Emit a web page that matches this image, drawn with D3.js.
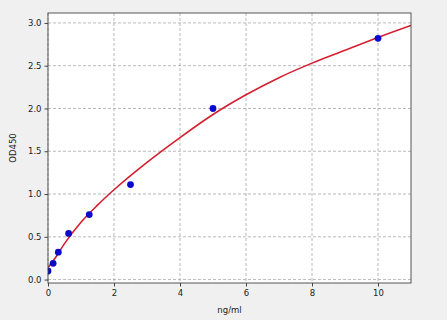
<!DOCTYPE html>
<html><head><meta charset="utf-8">
<script src="https://cdn.jsdelivr.net/npm/d3@7"></script>
<style>body{margin:0;background:#f0f0f0;}svg{display:block;}</style>
</head><body>
<script>
const concentrations = [0, 0.156, 0.312, 0.625, 1.25, 2.5, 5, 10];
const odValues = [0.10, 0.19, 0.32, 0.54, 0.76, 1.11, 2.00, 2.82];
const curveX = [0, 0.25, 0.5, 1, 1.5, 2, 3, 4, 5, 6, 7, 8, 9, 10, 11];
const curveY = [0.14, 0.27, 0.42, 0.67, 0.87, 1.05, 1.37, 1.66, 1.93, 2.16, 2.36, 2.53, 2.68, 2.83, 2.97];
const xTicks = [0, 2, 4, 6, 8, 10];
const yTicks = [0.0, 0.5, 1.0, 1.5, 2.0, 2.5, 3.0];

const W = 447, H = 320;
const m = {left: 48, right: 36, top: 13, bottom: 37};
const svg = d3.select("body").append("svg").attr("width", W).attr("height", H);
svg.append("rect").attr("width", W).attr("height", H).attr("fill", "#f0f0f0");
const x = d3.scaleLinear().domain([0, 11]).range([m.left, W - m.right]);
const y = d3.scaleLinear().domain([-0.04, 3.116]).range([H - m.bottom, m.top]);
svg.append("defs").append("clipPath").attr("id", "clip").append("rect")
  .attr("x", m.left).attr("y", m.top).attr("width", W - m.left - m.right).attr("height", H - m.top - m.bottom);
svg.append("rect").attr("x", m.left).attr("y", m.top)
  .attr("width", W - m.left - m.right).attr("height", H - m.top - m.bottom).attr("fill", "#ffffff");

const grid = svg.append("g").attr("stroke", "#a8a8a8").attr("stroke-width", 0.8).attr("stroke-dasharray", "3,2");
grid.selectAll(".gx").data(xTicks).join("line")
  .attr("x1", d => x(d)).attr("x2", d => x(d)).attr("y1", m.top).attr("y2", H - m.bottom);
grid.selectAll(".gy").data(yTicks).join("line")
  .attr("y1", d => y(d)).attr("y2", d => y(d)).attr("x1", m.left).attr("x2", W - m.right);

const plot = svg.append("g").attr("clip-path", "url(#clip)");
const line = d3.line().x((d, i) => x(curveX[i])).y(d => y(d)).curve(d3.curveMonotoneX);
plot.append("path").datum(curveY).attr("d", line).attr("fill", "none")
  .attr("stroke", "#d42030").attr("stroke-width", 1.6);

plot.append("g").selectAll("circle").data(odValues).join("circle")
  .attr("cx", (d, i) => x(concentrations[i])).attr("cy", d => y(d)).attr("r", 3.4)
  .attr("fill", "#0a0acc");

svg.append("rect").attr("x", m.left).attr("y", m.top)
  .attr("width", W - m.left - m.right).attr("height", H - m.top - m.bottom)
  .attr("fill", "none").attr("stroke", "#444").attr("stroke-width", 0.9);

const xAxis = svg.append("g").attr("transform", `translate(0,${H - m.bottom})`)
  .call(d3.axisBottom(x).tickValues(xTicks).tickSize(3.5).tickPadding(3).tickFormat(d3.format("d")));
const yAxis = svg.append("g").attr("transform", `translate(${m.left},0)`)
  .call(d3.axisLeft(y).tickValues(yTicks).tickSize(3.5).tickPadding(3).tickFormat(d3.format(".1f")));
[xAxis, yAxis].forEach(a => {
  a.select(".domain").remove();
  a.selectAll("line").attr("stroke", "#444");
  a.selectAll("text").attr("font-family", "DejaVu Sans").attr("font-size", 8.5).attr("fill", "#222");
});

svg.append("text").attr("x", (m.left + W - m.right) / 2).attr("y", 313)
  .attr("text-anchor", "middle").attr("font-family", "DejaVu Sans").attr("font-size", 8.5).attr("fill", "#222").text("ng/ml");
svg.append("text").attr("transform", `translate(16,${(m.top + H - m.bottom) / 2}) rotate(-90)`)
  .attr("text-anchor", "middle").attr("font-family", "DejaVu Sans").attr("font-size", 8.5).attr("fill", "#222").text("OD450");
</script>
</body></html>
